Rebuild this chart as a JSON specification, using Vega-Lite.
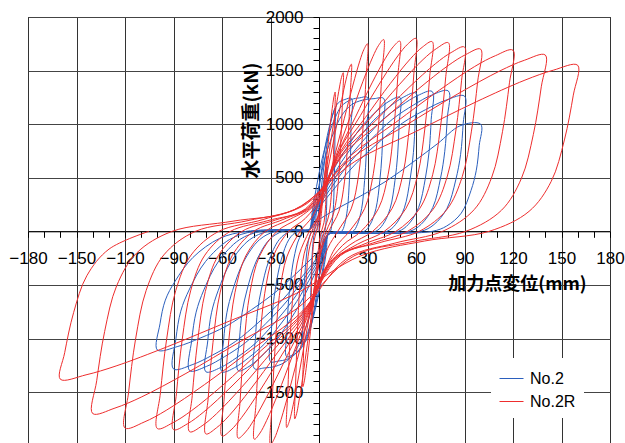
{
"$schema": "https://vega.github.io/schema/vega-lite/v6.json",
"width": 582, "height": 426,
"autosize": {"type": "none"},
"padding": {"left": 28, "top": 17, "right": 15, "bottom": 0},
"background": "white",
"config": {"view": {"stroke": "black", "strokeWidth": 1}},
"datasets": {
"no2": [
{"x":0,"y":0},{"x":0.25,"y":90},{"x":0.75,"y":180},{"x":1.5,"y":300},{"x":2.25,"y":396},{"x":3,"y":480},{"x":3.75,"y":540},{"x":4.4,"y":582},{"x":5,"y":600},
{"x":4.95,"y":480},{"x":4.87,"y":342},{"x":4.7,"y":228},{"x":4.4,"y":102},{"x":3.95,"y":30},{"x":3.5,"y":0},
{"x":2.5,"y":-10},{"x":1.5,"y":-15},
{"x":1.2,"y":-98},{"x":0.5,"y":-195},{"x":-0.45,"y":-325},{"x":-1.4,"y":-429},{"x":-2.4,"y":-520},{"x":-3.4,"y":-585},{"x":-4.2,"y":-631},{"x":-5,"y":-650},
{"x":-4.9,"y":-507},{"x":-4.75,"y":-377},{"x":-4.45,"y":-273},{"x":-3.9,"y":-143},{"x":-3.1,"y":-39},{"x":-2.25,"y":0},
{"x":-1.9,"y":10},{"x":-1.5,"y":10},
{"x":-0.5,"y":150},{"x":1,"y":350},{"x":3,"y":600},{"x":5,"y":820},{"x":7,"y":1000},{"x":8.5,"y":1090},{"x":9.3,"y":1130},{"x":10,"y":1150},
{"x":9.9,"y":920},{"x":9.7,"y":656},{"x":9.4,"y":437},{"x":8.8,"y":196},{"x":7.9,"y":58},{"x":7,"y":0},
{"x":5,"y":-20},{"x":3,"y":-25},
{"x":2.35,"y":-150},{"x":1.05,"y":-300},{"x":-0.9,"y":-520},{"x":-2.85,"y":-720},{"x":-4.8,"y":-880},{"x":-6.75,"y":-980},{"x":-8.4,"y":-1030},{"x":-10,"y":-1050},
{"x":-9.85,"y":-820},{"x":-9.5,"y":-610},{"x":-8.9,"y":-440},{"x":-7.8,"y":-230},{"x":-6.15,"y":-63},{"x":-4.5,"y":0},
{"x":-3.8,"y":12},{"x":-3,"y":15},
{"x":-1.5,"y":200},{"x":0.5,"y":450},{"x":3,"y":720},{"x":6,"y":950},{"x":9,"y":1110},{"x":12,"y":1200},{"x":16,"y":1230},{"x":20,"y":1240},
{"x":19.8,"y":992},{"x":19.5,"y":707},{"x":18.8,"y":471},{"x":17.6,"y":211},{"x":15.8,"y":62},{"x":14,"y":0},
{"x":10,"y":-20},{"x":6,"y":-25},
{"x":4.5,"y":-200},{"x":2,"y":-420},{"x":-1.5,"y":-680},{"x":-5,"y":-880},{"x":-8.5,"y":-1020},{"x":-12,"y":-1110},{"x":-16,"y":-1150},{"x":-20,"y":-1170},
{"x":-19.7,"y":-913},{"x":-19,"y":-679},{"x":-17.8,"y":-491},{"x":-15.6,"y":-257},{"x":-12.3,"y":-70},{"x":-9,"y":0},
{"x":-7.5,"y":15},{"x":-6,"y":15},
{"x":-4,"y":200},{"x":-1.5,"y":420},{"x":2,"y":680},{"x":6,"y":900},{"x":10,"y":1060},{"x":14,"y":1170},{"x":20,"y":1230},{"x":25,"y":1245},{"x":30,"y":1250},
{"x":29.7,"y":1000},{"x":29.2,"y":713},{"x":28.2,"y":475},{"x":26.4,"y":213},{"x":23.7,"y":63},{"x":21,"y":0},
{"x":13,"y":-20},{"x":6,"y":-25},
{"x":4,"y":-200},{"x":1.5,"y":-420},{"x":-2,"y":-680},{"x":-6,"y":-900},{"x":-10,"y":-1050},{"x":-15,"y":-1150},{"x":-20,"y":-1195},{"x":-25,"y":-1210},{"x":-30,"y":-1215},
{"x":-29.5,"y":-948},{"x":-28.5,"y":-705},{"x":-26.7,"y":-510},{"x":-23.4,"y":-267},{"x":-18.5,"y":-73},{"x":-13.5,"y":0},
{"x":-9,"y":15},{"x":-6,"y":15},
{"x":-3.5,"y":190},{"x":0,"y":430},{"x":4,"y":700},{"x":9,"y":920},{"x":14,"y":1080},{"x":20,"y":1180},{"x":27,"y":1225},{"x":34,"y":1238},{"x":40,"y":1240},
{"x":39.6,"y":992},{"x":38.9,"y":707},{"x":37.6,"y":471},{"x":35.2,"y":211},{"x":31.6,"y":62},{"x":28,"y":0},
{"x":17,"y":-20},{"x":6,"y":-25},
{"x":3.5,"y":-190},{"x":0,"y":-430},{"x":-4,"y":-700},{"x":-9,"y":-930},{"x":-14,"y":-1100},{"x":-20,"y":-1210},{"x":-27,"y":-1260},{"x":-34,"y":-1275},{"x":-40,"y":-1280},
{"x":-39.3,"y":-998},{"x":-38,"y":-742},{"x":-35.6,"y":-538},{"x":-31.2,"y":-282},{"x":-24.6,"y":-77},{"x":-18,"y":0},
{"x":-12,"y":15},{"x":-6,"y":15},
{"x":-3.2,"y":188},{"x":2.4,"y":375},{"x":10.8,"y":625},{"x":19.2,"y":825},{"x":27.6,"y":1000},{"x":36,"y":1125},{"x":43.3,"y":1213},{"x":50,"y":1250},
{"x":49.55,"y":1000},{"x":48.65,"y":713},{"x":47,"y":475},{"x":44,"y":213},{"x":39.5,"y":63},{"x":35,"y":0},
{"x":20,"y":-20},{"x":6,"y":-25},
{"x":3.2,"y":-195},{"x":-2.4,"y":-390},{"x":-10.8,"y":-650},{"x":-19.2,"y":-858},{"x":-27.6,"y":-1040},{"x":-36,"y":-1170},{"x":-43.3,"y":-1261},{"x":-50,"y":-1300},
{"x":-49.2,"y":-1014},{"x":-47.5,"y":-754},{"x":-44.5,"y":-546},{"x":-39,"y":-286},{"x":-30.75,"y":-78},{"x":-22.5,"y":0},
{"x":-14,"y":15},{"x":-6,"y":15},
{"x":-2.7,"y":194},{"x":3.9,"y":387},{"x":13.8,"y":645},{"x":23.7,"y":851},{"x":33.6,"y":1032},{"x":43.5,"y":1161},{"x":52.1,"y":1251},{"x":60,"y":1290},
{"x":59.5,"y":1032},{"x":58.4,"y":735},{"x":56.4,"y":490},{"x":52.8,"y":219},{"x":47.4,"y":65},{"x":42,"y":0},
{"x":24,"y":-20},{"x":6,"y":-25},
{"x":2.7,"y":-197},{"x":-3.9,"y":-393},{"x":-13.8,"y":-655},{"x":-23.7,"y":-865},{"x":-33.6,"y":-1048},{"x":-43.5,"y":-1179},{"x":-52.1,"y":-1271},{"x":-60,"y":-1310},
{"x":-59,"y":-1022},{"x":-57,"y":-760},{"x":-53.4,"y":-550},{"x":-46.8,"y":-288},{"x":-36.9,"y":-79},{"x":-27,"y":0},
{"x":-16,"y":15},{"x":-6,"y":15},
{"x":-2.2,"y":196},{"x":5.4,"y":392},{"x":16.8,"y":653},{"x":28.2,"y":861},{"x":39.6,"y":1044},{"x":51,"y":1175},{"x":60.9,"y":1266},{"x":70,"y":1305},
{"x":69.4,"y":1044},{"x":68.1,"y":744},{"x":65.8,"y":496},{"x":61.6,"y":222},{"x":55.3,"y":65},{"x":49,"y":0},
{"x":28,"y":-20},{"x":6,"y":-25},
{"x":2.2,"y":-197},{"x":-5.4,"y":-393},{"x":-16.8,"y":-655},{"x":-28.2,"y":-865},{"x":-39.6,"y":-1048},{"x":-51,"y":-1179},{"x":-60.9,"y":-1271},{"x":-70,"y":-1310},
{"x":-68.8,"y":-1022},{"x":-66.5,"y":-760},{"x":-62.3,"y":-550},{"x":-54.6,"y":-288},{"x":-43,"y":-79},{"x":-31.5,"y":0},
{"x":-18,"y":15},{"x":-6,"y":15},
{"x":-1.7,"y":197},{"x":6.9,"y":393},{"x":19.8,"y":655},{"x":32.7,"y":865},{"x":45.6,"y":1048},{"x":58.5,"y":1179},{"x":69.7,"y":1271},{"x":80,"y":1310},
{"x":79.3,"y":1048},{"x":77.8,"y":747},{"x":75.2,"y":498},{"x":70.4,"y":223},{"x":63.2,"y":66},{"x":56,"y":0},
{"x":30,"y":-20},{"x":6,"y":-25},
{"x":1.7,"y":-195},{"x":-6.9,"y":-390},{"x":-19.8,"y":-650},{"x":-32.7,"y":-858},{"x":-45.6,"y":-1040},{"x":-58.5,"y":-1170},{"x":-69.7,"y":-1261},{"x":-80,"y":-1300},
{"x":-78.7,"y":-1014},{"x":-76,"y":-754},{"x":-71.2,"y":-546},{"x":-62.4,"y":-286},{"x":-49.2,"y":-78},{"x":-36,"y":0},
{"x":-20,"y":15},{"x":-6,"y":15},
{"x":-1.2,"y":189},{"x":8.4,"y":379},{"x":22.8,"y":631},{"x":37.2,"y":833},{"x":51.6,"y":1010},{"x":66,"y":1136},{"x":78.5,"y":1224},{"x":90,"y":1262},
{"x":89.2,"y":1010},{"x":87.6,"y":719},{"x":84.6,"y":480},{"x":79.2,"y":215},{"x":71.1,"y":63},{"x":63,"y":0},
{"x":34,"y":-20},{"x":6,"y":-25},
{"x":1.2,"y":-193},{"x":-8.4,"y":-385},{"x":-22.8,"y":-642},{"x":-37.2,"y":-847},{"x":-51.6,"y":-1027},{"x":-66,"y":-1156},{"x":-78.5,"y":-1245},{"x":-90,"y":-1284},
{"x":-88.5,"y":-1002},{"x":-85.5,"y":-745},{"x":-80.1,"y":-539},{"x":-70.2,"y":-282},{"x":-55.4,"y":-77},{"x":-40.5,"y":0},
{"x":-22,"y":15},{"x":-6,"y":15},
{"x":-0.7,"y":100},{"x":9.9,"y":200},{"x":25.8,"y":330},{"x":41.7,"y":470},{"x":57.6,"y":640},{"x":73.5,"y":820},{"x":87.3,"y":985},{"x":100,"y":1000},
{"x":99.1,"y":800},{"x":97.3,"y":570},{"x":94,"y":380},{"x":88,"y":170},{"x":79,"y":50},{"x":70,"y":0},
{"x":38,"y":-20},{"x":6,"y":-25},
{"x":0.7,"y":-166},{"x":-9.9,"y":-332},{"x":-25.8,"y":-554},{"x":-41.7,"y":-731},{"x":-57.6,"y":-886},{"x":-73.5,"y":-996},{"x":-87.3,"y":-1074},{"x":-100,"y":-1107},
{"x":-98.35,"y":-863},{"x":-95.05,"y":-642},{"x":-89,"y":-465},{"x":-78,"y":-244},{"x":-61.5,"y":-66},{"x":-45,"y":0},
{"x":-25,"y":15}
],
"no2r": [
{"x":0,"y":0},{"x":0.75,"y":56},{"x":1.5,"y":168},{"x":2.25,"y":294},{"x":3,"y":420},{"x":3.75,"y":546},{"x":4.35,"y":637},{"x":4.7,"y":679},{"x":5,"y":700},
{"x":4.8,"y":574},{"x":4.5,"y":385},{"x":3.95,"y":210},{"x":3.1,"y":84},{"x":1.5,"y":0},
{"x":0.5,"y":-60},{"x":-0.45,"y":-180},{"x":-1.4,"y":-315},{"x":-2.4,"y":-450},{"x":-3.4,"y":-585},{"x":-4.2,"y":-683},{"x":-4.6,"y":-728},{"x":-5,"y":-750},
{"x":-4.8,"y":-615},{"x":-4.5,"y":-413},{"x":-3.95,"y":-225},{"x":-3.1,"y":-90},{"x":-1.5,"y":0},
{"x":0.2,"y":104},{"x":1.95,"y":312},{"x":3.7,"y":546},{"x":5.4,"y":780},{"x":7.1,"y":1014},{"x":8.5,"y":1183},{"x":9.3,"y":1261},{"x":10,"y":1300},
{"x":9.65,"y":1066},{"x":8.95,"y":715},{"x":7.9,"y":390},{"x":6.15,"y":156},{"x":3,"y":0},
{"x":1.05,"y":-116},{"x":-0.9,"y":-348},{"x":-2.85,"y":-609},{"x":-4.8,"y":-870},{"x":-6.75,"y":-1131},{"x":-8.3,"y":-1320},{"x":-9.2,"y":-1407},{"x":-10,"y":-1450},
{"x":-9.65,"y":-1189},{"x":-8.95,"y":-798},{"x":-7.9,"y":-435},{"x":-6.15,"y":-174},{"x":-3,"y":0},
{"x":-0.3,"y":118},{"x":2.4,"y":355},{"x":5.1,"y":622},{"x":7.8,"y":888},{"x":10.5,"y":1154},{"x":12.7,"y":1347},{"x":13.9,"y":1436},{"x":15,"y":1480},
{"x":14.5,"y":1214},{"x":13.4,"y":814},{"x":11.85,"y":444},{"x":9.2,"y":178},{"x":4.5,"y":0},
{"x":1.6,"y":-140},{"x":-1.35,"y":-420},{"x":-4.3,"y":-735},{"x":-7.2,"y":-1050},{"x":-10.1,"y":-1365},{"x":-12.5,"y":-1593},{"x":-13.8,"y":-1698},{"x":-15,"y":-1750},
{"x":-14.5,"y":-1435},{"x":-13.4,"y":-963},{"x":-11.85,"y":-525},{"x":-9.2,"y":-210},{"x":-4.5,"y":0},
{"x":-0.8,"y":125},{"x":2.85,"y":374},{"x":6.5,"y":655},{"x":10.2,"y":936},{"x":13.9,"y":1217},{"x":16.8,"y":1420},{"x":18.5,"y":1513},{"x":20,"y":1560},
{"x":19.3,"y":1279},{"x":17.9,"y":858},{"x":15.8,"y":468},{"x":12.3,"y":187},{"x":6,"y":0},
{"x":2.1,"y":-146},{"x":-1.8,"y":-439},{"x":-5.7,"y":-769},{"x":-9.6,"y":-1098},{"x":-13.5,"y":-1427},{"x":-16.6,"y":-1665},{"x":-18.4,"y":-1775},{"x":-20,"y":-1830},
{"x":-19.3,"y":-1501},{"x":-17.9,"y":-1007},{"x":-15.8,"y":-549},{"x":-12.3,"y":-220},{"x":-6,"y":0},
{"x":-0.6,"y":140},{"x":4.8,"y":420},{"x":10.2,"y":735},{"x":15.6,"y":1050},{"x":21,"y":1365},{"x":25.3,"y":1593},{"x":27.8,"y":1698},{"x":30,"y":1750},
{"x":29.1,"y":1435},{"x":27.2,"y":963},{"x":24.5,"y":525},{"x":19.9,"y":210},{"x":11.6,"y":0},
{"x":5.4,"y":-159},{"x":-0.9,"y":-478},{"x":-7.1,"y":-836},{"x":-13.4,"y":-1194},{"x":-19.6,"y":-1552},{"x":-24.6,"y":-1811},{"x":-27.5,"y":-1930},{"x":-30,"y":-1990},
{"x":-29.1,"y":-1632},{"x":-27.2,"y":-1095},{"x":-24.5,"y":-597},{"x":-19.9,"y":-239},{"x":-11.6,"y":0},
{"x":-3.9,"y":143},{"x":3.9,"y":430},{"x":11.6,"y":752},{"x":19.4,"y":1074},{"x":27.1,"y":1396},{"x":33.3,"y":1629},{"x":36.9,"y":1736},{"x":40,"y":1790},
{"x":38.9,"y":1468},{"x":36.8,"y":985},{"x":33.6,"y":537},{"x":28.3,"y":215},{"x":18.8,"y":0},
{"x":10,"y":-155},{"x":1.2,"y":-466},{"x":-7.7,"y":-815},{"x":-16.5,"y":-1164},{"x":-25.3,"y":-1513},{"x":-32.4,"y":-1765},{"x":-36.5,"y":-1882},{"x":-40,"y":-1940},
{"x":-38.9,"y":-1591},{"x":-36.8,"y":-1067},{"x":-33.6,"y":-582},{"x":-28.3,"y":-233},{"x":-18.8,"y":0},
{"x":-8.5,"y":120},{"x":1.8,"y":330},{"x":12.2,"y":746},{"x":22.5,"y":1065},{"x":32.8,"y":1385},{"x":41.1,"y":1615},{"x":45.9,"y":1722},{"x":50,"y":1775},
{"x":48.8,"y":1456},{"x":46.4,"y":976},{"x":42.8,"y":533},{"x":36.8,"y":213},{"x":26,"y":0},
{"x":14.6,"y":-130},{"x":3.2,"y":-360},{"x":-8.2,"y":-811},{"x":-19.6,"y":-1158},{"x":-31,"y":-1505},{"x":-40.1,"y":-1756},{"x":-45.4,"y":-1872},{"x":-50,"y":-1930},
{"x":-48.8,"y":-1583},{"x":-46.4,"y":-1062},{"x":-42.8,"y":-579},{"x":-36.8,"y":-232},{"x":-26,"y":0},
{"x":-13.1,"y":120},{"x":-0.2,"y":290},{"x":12.7,"y":756},{"x":25.6,"y":1080},{"x":38.5,"y":1404},{"x":48.8,"y":1638},{"x":54.8,"y":1746},{"x":60,"y":1800},
{"x":58.7,"y":1476},{"x":56,"y":990},{"x":52,"y":540},{"x":45.3,"y":216},{"x":33.2,"y":0},
{"x":19.2,"y":-125},{"x":5.2,"y":-320},{"x":-8.7,"y":-802},{"x":-22.7,"y":-1146},{"x":-36.7,"y":-1490},{"x":-47.9,"y":-1738},{"x":-54.4,"y":-1853},{"x":-60,"y":-1910},
{"x":-58.7,"y":-1566},{"x":-56,"y":-1051},{"x":-52,"y":-573},{"x":-45.3,"y":-229},{"x":-33.2,"y":0},
{"x":-17.7,"y":115},{"x":-2.2,"y":260},{"x":13.2,"y":743},{"x":28.7,"y":1062},{"x":44.2,"y":1381},{"x":56.6,"y":1611},{"x":63.8,"y":1717},{"x":70,"y":1770},
{"x":68.5,"y":1451},{"x":65.6,"y":974},{"x":61.1,"y":531},{"x":53.7,"y":212},{"x":40.4,"y":0},
{"x":23.8,"y":-120},{"x":7.3,"y":-290},{"x":-9.3,"y":-794},{"x":-25.8,"y":-1134},{"x":-42.4,"y":-1474},{"x":-55.6,"y":-1720},{"x":-63.4,"y":-1833},{"x":-70,"y":-1890},
{"x":-68.5,"y":-1550},{"x":-65.6,"y":-1040},{"x":-61.1,"y":-567},{"x":-53.7,"y":-227},{"x":-40.4,"y":0},
{"x":-22.3,"y":110},{"x":-4.3,"y":240},{"x":13.8,"y":739},{"x":31.8,"y":1056},{"x":49.9,"y":1373},{"x":64.3,"y":1602},{"x":72.8,"y":1707},{"x":80,"y":1760},
{"x":78.4,"y":1443},{"x":75.1,"y":968},{"x":70.3,"y":528},{"x":62.2,"y":211},{"x":47.6,"y":0},
{"x":28.5,"y":-115},{"x":9.3,"y":-260},{"x":-9.8,"y":-785},{"x":-29,"y":-1122},{"x":-48.1,"y":-1459},{"x":-63.4,"y":-1702},{"x":-72.3,"y":-1814},{"x":-80,"y":-1870},
{"x":-78.4,"y":-1533},{"x":-75.1,"y":-1029},{"x":-70.3,"y":-561},{"x":-62.2,"y":-224},{"x":-47.6,"y":0},
{"x":-27,"y":105},{"x":-6.3,"y":225},{"x":14.3,"y":722},{"x":35,"y":1032},{"x":55.6,"y":1342},{"x":72.1,"y":1565},{"x":81.7,"y":1668},{"x":90,"y":1720},
{"x":88.2,"y":1410},{"x":84.7,"y":946},{"x":79.4,"y":516},{"x":70.6,"y":206},{"x":54.8,"y":0},
{"x":33.1,"y":-110},{"x":11.4,"y":-240},{"x":-10.4,"y":-777},{"x":-32.1,"y":-1110},{"x":-53.8,"y":-1443},{"x":-71.2,"y":-1684},{"x":-81.3,"y":-1795},{"x":-90,"y":-1850},
{"x":-88.2,"y":-1517},{"x":-84.7,"y":-1018},{"x":-79.4,"y":-555},{"x":-70.6,"y":-222},{"x":-54.8,"y":0},
{"x":-31.6,"y":100},{"x":-8.4,"y":210},{"x":14.9,"y":714},{"x":38.1,"y":1020},{"x":61.3,"y":1326},{"x":79.9,"y":1547},{"x":90.7,"y":1649},{"x":100,"y":1700},
{"x":98.1,"y":1394},{"x":94.3,"y":935},{"x":88.6,"y":510},{"x":79.1,"y":204},{"x":62,"y":0},
{"x":37.7,"y":-105},{"x":13.4,"y":-225},{"x":-10.9,"y":-773},{"x":-35.2,"y":-1104},{"x":-59.5,"y":-1435},{"x":-78.9,"y":-1674},{"x":-90.3,"y":-1785},{"x":-100,"y":-1840},
{"x":-98.1,"y":-1509},{"x":-94.3,"y":-1012},{"x":-88.6,"y":-552},{"x":-79.1,"y":-221},{"x":-62,"y":0},
{"x":-34.7,"y":110},{"x":-7.4,"y":260},{"x":19.9,"y":710},{"x":47.2,"y":1014},{"x":74.5,"y":1318},{"x":96.3,"y":1538},{"x":109.1,"y":1639},{"x":120,"y":1690},
{"x":117.8,"y":1386},{"x":113.5,"y":930},{"x":106.9,"y":507},{"x":96,"y":203},{"x":76.4,"y":0},
{"x":46.9,"y":-110},{"x":17.5,"y":-250},{"x":-12,"y":-771},{"x":-41.4,"y":-1101},{"x":-70.9,"y":-1431},{"x":-94.5,"y":-1670},{"x":-108.2,"y":-1780},{"x":-120,"y":-1835},
{"x":-117.8,"y":-1505},{"x":-113.5,"y":-1009},{"x":-106.9,"y":-551},{"x":-96,"y":-220},{"x":-76.4,"y":0},
{"x":-43.9,"y":100},{"x":-11.5,"y":230},{"x":21,"y":691},{"x":53.4,"y":987},{"x":85.9,"y":1283},{"x":111.9,"y":1497},{"x":127,"y":1596},{"x":140,"y":1645},
{"x":137.5,"y":1349},{"x":132.6,"y":905},{"x":125.2,"y":494},{"x":112.9,"y":197},{"x":90.8,"y":0},
{"x":56.2,"y":-100},{"x":21.6,"y":-230},{"x":-13.1,"y":-714},{"x":-47.7,"y":-1020},{"x":-82.3,"y":-1326},{"x":-110,"y":-1547},{"x":-126.2,"y":-1649},{"x":-140,"y":-1700},
{"x":-137.5,"y":-1394},{"x":-132.6,"y":-935},{"x":-125.2,"y":-510},{"x":-112.9,"y":-204},{"x":-90.8,"y":0},
{"x":-53.2,"y":95},{"x":-15.6,"y":200},{"x":22.1,"y":651},{"x":59.7,"y":930},{"x":97.3,"y":1209},{"x":127.4,"y":1411},{"x":145,"y":1504},{"x":160,"y":1550},
{"x":157.3,"y":1271},{"x":151.8,"y":853},{"x":143.6,"y":465},{"x":129.9,"y":186},{"x":105.2,"y":0},
{"x":65.4,"y":-90},{"x":25.6,"y":-230},{"x":-14.1,"y":-580},{"x":-53.9,"y":-828},{"x":-93.7,"y":-1076},{"x":-125.5,"y":-1256},{"x":-144.1,"y":-1339},{"x":-160,"y":-1380},
{"x":-157.3,"y":-1132},{"x":-151.8,"y":-759},{"x":-143.6,"y":-414},{"x":-129.9,"y":-166},{"x":-105.2,"y":0}
]
},
"layer": [
{
"data": {"name": "no2"},
"mark": {"type": "line", "strokeWidth": 1, "clip": true, "interpolate": "catmull-rom"},
"encoding": {
"x": {"field": "x", "type": "quantitative", "scale": {"domain": [-180, 180], "nice": false, "zero": false},
"axis": {"orient": "bottom", "values": [-180,-150,-120,-90,-60,-30,0,30,60,90,120,150,180], "grid": true, "gridColor": "#333", "gridWidth": 1, "labels": false, "ticks": false, "domain": false, "title": null}},
"y": {"field": "y", "type": "quantitative", "scale": {"domain": [-1975, 2000], "nice": false, "zero": false},
"axis": {"orient": "left", "values": [-1500,-1000,-500,0,500,1000,1500,2000], "grid": true, "gridColor": "#444", "gridWidth": 1, "labels": false, "ticks": false, "domain": false, "title": null}},
"order": {"value": null},
"color": {"datum": "No.2", "type": "nominal", "scale": {"domain": ["No.2", "No.2R"], "range": ["#2b5fbd", "#ee2d2d"]},
"legend": {"orient": "none", "legendX": 463, "legendY": 341, "fillColor": "white", "padding": 8, "title": null, "labelFontSize": 16, "labelFont": "Liberation Sans", "labelColor": "black", "symbolType": "stroke", "symbolSize": 576, "symbolStrokeWidth": 1, "rowPadding": 2, "labelOffset": 6}}
}
},
{
"data": {"name": "no2r"},
"mark": {"type": "line", "strokeWidth": 1, "clip": true, "interpolate": "catmull-rom"},
"encoding": {
"x": {"field": "x", "type": "quantitative", "scale": {"domain": [-180, 180], "nice": false, "zero": false},
"axis": {"orient": "bottom", "offset": -211.7, "format": "d", "values": [-180,-170,-160,-150,-140,-130,-120,-110,-100,-90,-80,-70,-60,-50,-40,-30,-20,-10,0,10,20,30,40,50,60,70,80,90,100,110,120,130,140,150,160,170,180],
"labelExpr": "datum.value % 30 === 0 ? datum.label : ''", "grid": false, "domain": true, "domainColor": "black", "tickColor": "black", "tickSize": 6,
"labelFontSize": 17, "labelFont": "Liberation Sans", "labelColor": "black", "labelPadding": 13, "labelOverlap": false, "labelBound": false, "labelFlush": false,
"title": "加力点変位(mm)", "titleFont": "Noto Sans CJK JP", "titleFontSize": 18, "titleFontWeight": "bold", "titleColor": "black", "titleX": 489, "titleY": 53, "titleAlign": "center", "titleBaseline": "middle", "titleAngle": 0}},
"y": {"field": "y", "type": "quantitative", "scale": {"domain": [-1975, 2000], "nice": false, "zero": false},
"axis": {"orient": "left", "offset": -291, "format": "d", "values": [-1900,-1800,-1700,-1600,-1500,-1400,-1300,-1200,-1100,-1000,-900,-800,-700,-600,-500,-400,-300,-200,-100,0,100,200,300,400,500,600,700,800,900,1000,1100,1200,1300,1400,1500,1600,1700,1800,1900,2000],
"labelExpr": "datum.value % 500 === 0 ? datum.label : ''", "grid": false, "domain": true, "domainColor": "black", "tickColor": "black", "tickSize": 6,
"labelFontSize": 17, "labelFont": "Liberation Sans", "labelColor": "black", "labelPadding": 10, "labelOverlap": false, "labelBound": false, "labelFlush": false,
"title": "水平荷重(kN)", "titleFont": "Noto Sans CJK JP", "titleFontSize": 19, "titleFontWeight": "bold", "titleColor": "black", "titleX": -68, "titleY": 103, "titleAlign": "center", "titleBaseline": "middle", "titleAngle": -90}},
"order": {"value": null},
"color": {"datum": "No.2R", "type": "nominal", "scale": {"domain": ["No.2", "No.2R"], "range": ["#2b5fbd", "#ee2d2d"]},
"legend": {"orient": "none", "legendX": 463, "legendY": 341, "fillColor": "white", "padding": 8, "title": null, "labelFontSize": 16, "labelFont": "Liberation Sans", "labelColor": "black", "symbolType": "stroke", "symbolSize": 576, "symbolStrokeWidth": 1, "rowPadding": 2, "labelOffset": 6}}
}
}
],
"resolve": {"axis": {"x": "independent", "y": "independent"}}
}
